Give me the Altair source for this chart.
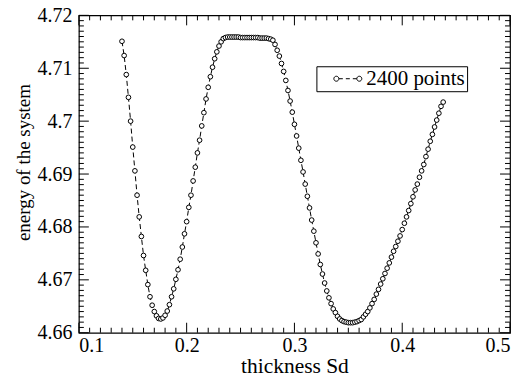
import altair as alt
import pandas as pd

# ---- data ----
thickness = [
    0.140, 0.142, 0.144, 0.146, 0.148, 0.150, 0.152, 0.154, 0.156, 0.158,
    0.160, 0.162, 0.164, 0.166, 0.168, 0.170, 0.172, 0.174, 0.176, 0.178,
    0.180, 0.182, 0.184, 0.186, 0.188, 0.190, 0.192, 0.194, 0.196, 0.198,
    0.200, 0.202, 0.204, 0.206, 0.208, 0.210, 0.212, 0.214, 0.216, 0.218,
    0.220, 0.222, 0.224, 0.226, 0.228, 0.230, 0.232, 0.234, 0.236, 0.238,
    0.240, 0.242, 0.244, 0.246, 0.248, 0.250, 0.252, 0.254, 0.256, 0.258,
    0.260, 0.262, 0.264, 0.266, 0.268, 0.270, 0.272, 0.274, 0.276, 0.278,
    0.280, 0.282, 0.284, 0.286, 0.288, 0.290, 0.292, 0.294, 0.296, 0.298,
    0.300, 0.302, 0.304, 0.306, 0.308, 0.310, 0.312, 0.314, 0.316, 0.318,
    0.320, 0.322, 0.324, 0.326, 0.328, 0.330, 0.332, 0.334, 0.336, 0.338,
    0.340, 0.342, 0.344, 0.346, 0.348, 0.350, 0.352, 0.354, 0.356, 0.358,
    0.360, 0.362, 0.364, 0.366, 0.368, 0.370, 0.372, 0.374, 0.376, 0.378,
    0.380, 0.382, 0.384, 0.386, 0.388, 0.390, 0.392, 0.394, 0.396, 0.398,
    0.400, 0.402, 0.404, 0.406, 0.408, 0.410, 0.412, 0.414, 0.416, 0.418,
    0.420, 0.422, 0.424, 0.426, 0.428, 0.430, 0.432, 0.434, 0.436, 0.438,
]
energy = [
    4.7151, 4.7124, 4.7088, 4.7045, 4.7000, 4.6951, 4.6906, 4.6860, 4.6819, 4.6782,
    4.6746, 4.6718, 4.6691, 4.6668, 4.6652, 4.6640, 4.6632, 4.6627, 4.6626, 4.6628,
    4.6633, 4.6641, 4.6653, 4.6668, 4.6683, 4.6701, 4.6719, 4.6739, 4.6762, 4.6787,
    4.6810, 4.6837, 4.6860, 4.6887, 4.6913, 4.6940, 4.6964, 4.6991, 4.7016, 4.7042,
    4.7064, 4.7084, 4.7102, 4.7118, 4.7131, 4.7142, 4.7150, 4.7156, 4.7158, 4.7159,
    4.7159, 4.7159, 4.7159, 4.7159, 4.7159, 4.7158, 4.7158, 4.7158, 4.7158, 4.7158,
    4.7158, 4.7158, 4.7158, 4.7158, 4.7157, 4.7157, 4.7157, 4.7157, 4.7156, 4.7155,
    4.7153, 4.7145, 4.7134, 4.7123, 4.7109, 4.7094, 4.7077, 4.7058, 4.7038, 4.7017,
    4.6994, 4.6972, 4.6949, 4.6926, 4.6904, 4.6881, 4.6858, 4.6836, 4.6813, 4.6792,
    4.6770, 4.6749, 4.6729, 4.6711, 4.6694, 4.6679, 4.6666, 4.6655, 4.6645, 4.6638,
    4.6631, 4.6626, 4.6623, 4.6621, 4.6620, 4.6619, 4.6619, 4.6619, 4.6620, 4.6621,
    4.6623, 4.6625, 4.6630, 4.6635, 4.6640, 4.6647, 4.6655, 4.6663, 4.6673, 4.6682,
    4.6692, 4.6702, 4.6712, 4.6722, 4.6732, 4.6743, 4.6754, 4.6763, 4.6773, 4.6783,
    4.6795, 4.6807, 4.6819, 4.6831, 4.6844, 4.6857, 4.6870, 4.6881, 4.6894, 4.6906,
    4.6918, 4.6933, 4.6947, 4.6962, 4.6975, 4.6989, 4.7002, 4.7015, 4.7028, 4.7036,
]
series_name = "2400 points"

x_major = [0.1, 0.2, 0.3, 0.4, 0.5]
y_major = [4.66, 4.67, 4.68, 4.69, 4.70, 4.71, 4.72]
x_minor = [round(0.1 + 0.01 * k, 3) for k in range(41) if k % 10 != 0]
y_minor = [round(4.66 + 0.001 * k, 4) for k in range(61) if k % 10 != 0]

W, H = 432, 318
FONT = "'Liberation Serif', 'Times New Roman', Times, 'DejaVu Serif', serif"

df = pd.DataFrame({"x": thickness, "e": energy, "s": [series_name] * len(energy)})

xs = alt.Scale(domain=[0.1, 0.5], nice=False, zero=False)
ys = alt.Scale(domain=[4.66, 4.72], nice=False, zero=False)

xaxis = alt.Axis(values=x_major, format=".1f", ticks=False, domain=False, grid=False,
                 labelFont=FONT, labelFontSize=20, labelColor="black", labelPadding=3,
                 title="thickness Sd", titleFont=FONT, titleFontSize=21.5,
                 titleFontWeight="normal", titleColor="black", titlePadding=0)
yaxis = alt.Axis(values=y_major, format=".3~f", ticks=False, domain=False, grid=False,
                 labelFont=FONT, labelFontSize=20, labelColor="black", labelPadding=7,
                 title="energy of the system", titleFont=FONT, titleFontSize=19,
                 titleFontWeight="normal", titleColor="black",
                 titleAngle=270, titleAlign="center", titleBaseline="bottom",
                 titleX=-45, titleY=147)

X = alt.X("x:Q", scale=xs, axis=xaxis)
Y = alt.Y("e:Q", scale=ys, axis=yaxis)

line = alt.Chart(df).mark_line(color="black", strokeWidth=1, strokeDash=[5, 3]).encode(x=X, y=Y)

sym_path = ("M -1.4 0 A 0.25 0.25 0 1 0 -0.9 0 A 0.25 0.25 0 1 0 -1.4 0 "
            "M -0.9 0 L -0.5 0 M -0.2 0 L 0.2 0 M 0.5 0 L 0.9 0 "
            "M 0.9 0 A 0.25 0.25 0 1 0 1.4 0 A 0.25 0.25 0 1 0 0.9 0")

points = alt.Chart(df).mark_point(shape="circle", size=22, fill="white", filled=True,
                                  strokeWidth=1, opacity=1, fillOpacity=1).encode(
    x=X, y=Y,
    stroke=alt.Stroke("s:N", scale=alt.Scale(range=["black"]),
                      legend=alt.Legend(title=None, orient="none", legendX=238, legendY=51,
                                        symbolType=sym_path, symbolSize=400,
                                        symbolStrokeWidth=1, symbolFillColor="white",
                                        symbolOffset=19, labelOffset=8,
                                        labelFont=FONT, labelFontSize=21, labelColor="black",
                                        strokeColor="black", fillColor="white",
                                        padding=2)),
)

xt_major = pd.DataFrame({"x": x_major})
xt_minor = pd.DataFrame({"x": x_minor})
yt_major = pd.DataFrame({"e": y_major})
yt_minor = pd.DataFrame({"e": y_minor})


def xticks(d, length):
    b = alt.Chart(d).mark_rule(color="black", strokeWidth=1).encode(
        x=X, y=alt.value(H), y2=alt.value(H - length))
    t = alt.Chart(d).mark_rule(color="black", strokeWidth=1).encode(
        x=X, y=alt.value(0), y2=alt.value(length))
    return [b, t]


def yticks(d, length):
    l = alt.Chart(d).mark_rule(color="black", strokeWidth=1).encode(
        y=Y, x=alt.value(0), x2=alt.value(length))
    r = alt.Chart(d).mark_rule(color="black", strokeWidth=1).encode(
        y=Y, x=alt.value(W), x2=alt.value(W - length))
    return [l, r]


layers = [line, points] + xticks(xt_major, 10) + xticks(xt_minor, 5) \
    + yticks(yt_major, 10) + yticks(yt_minor, 5)

chart = alt.layer(*layers).properties(
    width=W, height=H,
    background="white",
    autosize=alt.AutoSizeParams(type="none"),
    padding={"left": 71, "top": 7, "right": 5, "bottom": 50},
).configure_view(stroke="black", strokeWidth=1.2)

chart.save("out.html", embed_options={"renderer": "svg", "actions": False})
